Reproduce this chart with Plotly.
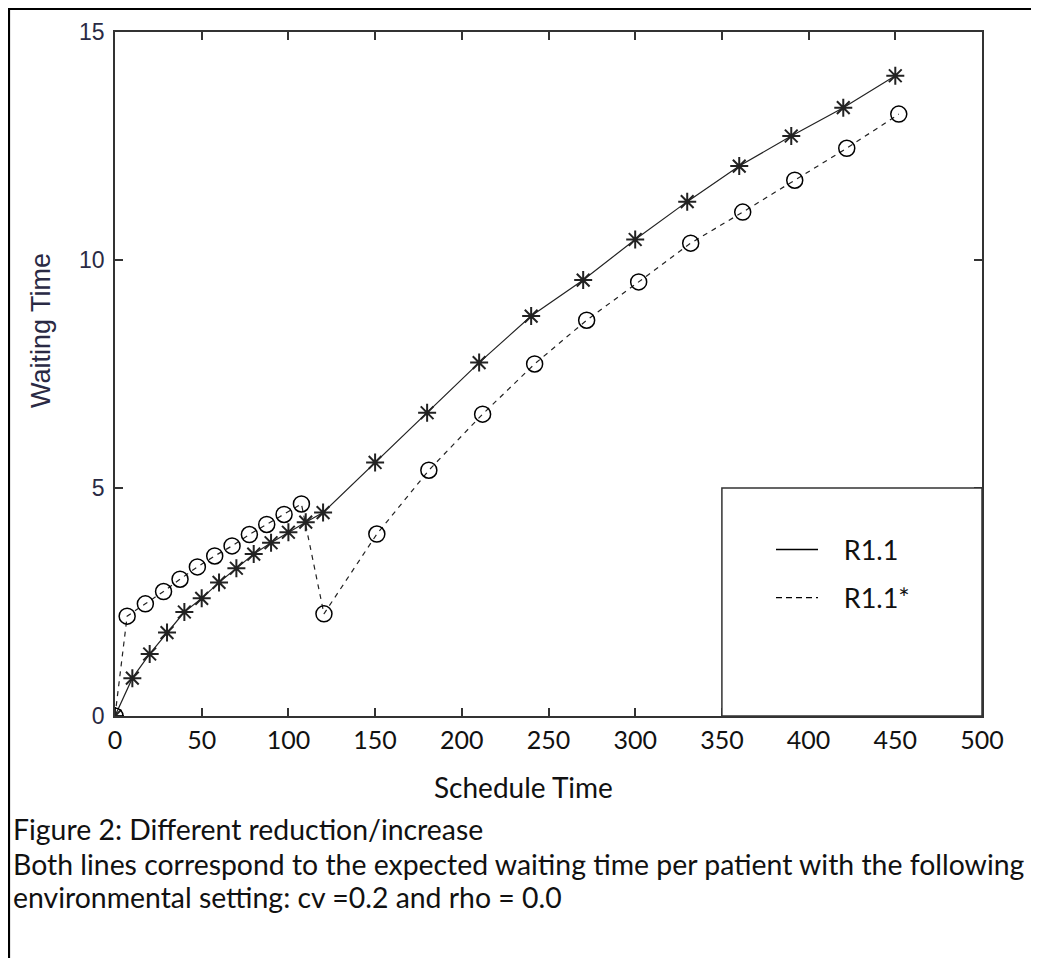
import plotly.graph_objects as go

# ---- data ----
r11_x = [0, 10, 20, 30, 40, 50, 60, 70, 80, 90, 100, 110, 120,
         150, 180, 210, 240, 270, 300, 330, 360, 390, 420, 450]
r11_y = [0, 0.83, 1.36, 1.83, 2.28, 2.58, 2.93, 3.24, 3.55, 3.80, 4.03, 4.25, 4.46,
         5.56, 6.65, 7.75, 8.77, 9.56, 10.45, 11.28, 12.06, 12.72, 13.34, 14.04]

r11s_x = [0, 7, 17.5, 28, 37.5, 47.5, 57.5, 67.5, 77.5, 87.5, 97.5, 107.5, 120.5,
          151, 181, 212, 242, 272, 302, 332, 362, 392, 422, 452]
r11s_y = [0, 2.19, 2.46, 2.73, 3.0, 3.27, 3.51, 3.73, 3.98, 4.20, 4.42, 4.65, 2.24,
          3.99, 5.39, 6.62, 7.72, 8.68, 9.52, 10.37, 11.05, 11.75, 12.45, 13.2]

x_ticks = [0, 50, 100, 150, 200, 250, 300, 350, 400, 450, 500]
y_ticks = [0, 5, 10, 15]

caption = ["Figure 2: Different reduction/increase",
           "Both lines correspond to the expected waiting time per patient with the following",
           "environmental setting: cv =0.2 and rho = 0.0"]

W, H = 1039, 958
OFF = 8                            # page body margin
L, R, T, B = 115, 982, 32, 716     # plot area in page pixels


def px(xp):
    return (xp - L) / (R - L)


def py(yp):
    return (B - yp) / (B - T)


CAL = "Lato, 'Open Sans', sans-serif"
ARI = "'Liberation Sans', Arial, sans-serif"
INK = "#111111"
NB = "\u00a0"

fig = go.Figure()

fig.add_trace(go.Scatter(
    x=r11_x, y=r11_y, mode="lines+markers", showlegend=False,
    line=dict(color="#222222", width=1.2),
    marker=dict(symbol="asterisk-open", size=15, line=dict(color="black", width=2)),
))
fig.add_trace(go.Scatter(
    x=r11s_x, y=r11s_y, mode="lines+markers", showlegend=False,
    line=dict(color="#222222", width=1.2, dash="5px,5px"),
    marker=dict(symbol="circle-open", size=16, color="black", line=dict(color="black", width=1.5)),
))
# legend entries (lines only, as in the original)
fig.add_trace(go.Scatter(x=[None], y=[None], mode="lines", name=NB * 3 + "R1.1",
                         line=dict(color="black", width=1.5), legend="legend"))
fig.add_trace(go.Scatter(x=[None], y=[None], mode="lines", name=NB * 3 + "R1.1*",
                         line=dict(color="black", width=1.3, dash="6px,4px"), legend="legend2"))

# legend box (data coords 350-500, 0-5)
fig.add_shape(type="rect", xref="x", yref="y", x0=350, x1=500, y0=0, y1=5,
              fillcolor="white", line=dict(color="#333333", width=1.5), layer="above")

# outer frame (top and left edges)
fig.add_shape(type="line", xref="paper", yref="paper", x0=px(8), x1=px(1060), y0=py(9), y1=py(9),
              line=dict(color="black", width=2.2))
fig.add_shape(type="line", xref="paper", yref="paper", x0=px(9), x1=px(9), y0=py(9), y1=py(980),
              line=dict(color="black", width=2.2))

ann = []
ann.append(dict(text="Schedule Time", x=px(523), y=py(787), xref="paper", yref="paper",
                showarrow=False, xanchor="center", yanchor="middle",
                font=dict(family=CAL, size=28, color=INK)))
ann.append(dict(text="Waiting Time", x=px(41), y=py(331), xref="paper", yref="paper",
                showarrow=False, xanchor="center", yanchor="middle", textangle=-90,
                font=dict(family=ARI, size=27, color="#2a2a44")))
for line, yy in zip(caption, [829, 864, 897]):
    ann.append(dict(text=line, x=px(11), y=py(yy), xref="paper", yref="paper",
                    showarrow=False, xanchor="left", yanchor="middle",
                    font=dict(family=CAL, size=28.4, color=INK)))

fig.update_layout(
    width=W, height=H,
    margin=dict(l=L - OFF, r=W - (R - OFF), t=T - OFF, b=H - (B - OFF), pad=0),
    paper_bgcolor="white", plot_bgcolor="white",
    annotations=ann,
    legend=dict(x=px(771), y=py(550), xanchor="left", yanchor="middle",
                bgcolor="rgba(0,0,0,0)", borderwidth=0, itemwidth=42,
                font=dict(family=CAL, size=27, color=INK)),
    legend2=dict(x=px(771), y=py(598), xanchor="left", yanchor="middle",
                 bgcolor="rgba(0,0,0,0)", borderwidth=0, itemwidth=42,
                 font=dict(family=CAL, size=27, color=INK)),
)

fig.update_xaxes(range=[0, 500], tickvals=x_ticks, ticktext=[str(v) for v in x_ticks],
                 ticks="inside", ticklen=8, tickwidth=1.5, tickcolor="#333333",
                 showline=True, linecolor="#333333", linewidth=1.5, mirror="ticks",
                 showgrid=False, zeroline=False, ticklabelstandoff=1,
                 tickfont=dict(family=CAL, size=25, color=INK))
fig.update_yaxes(range=[0, 15], tickvals=y_ticks, ticktext=[str(v) for v in y_ticks],
                 ticks="inside", ticklen=8, tickwidth=1.5, tickcolor="#333333",
                 showline=True, linecolor="#333333", linewidth=1.5, mirror="ticks",
                 showgrid=False, zeroline=False, ticklabelstandoff=4,
                 tickfont=dict(family=ARI, size=23, color="#2a2a44"))

fig.write_html("out.html")
